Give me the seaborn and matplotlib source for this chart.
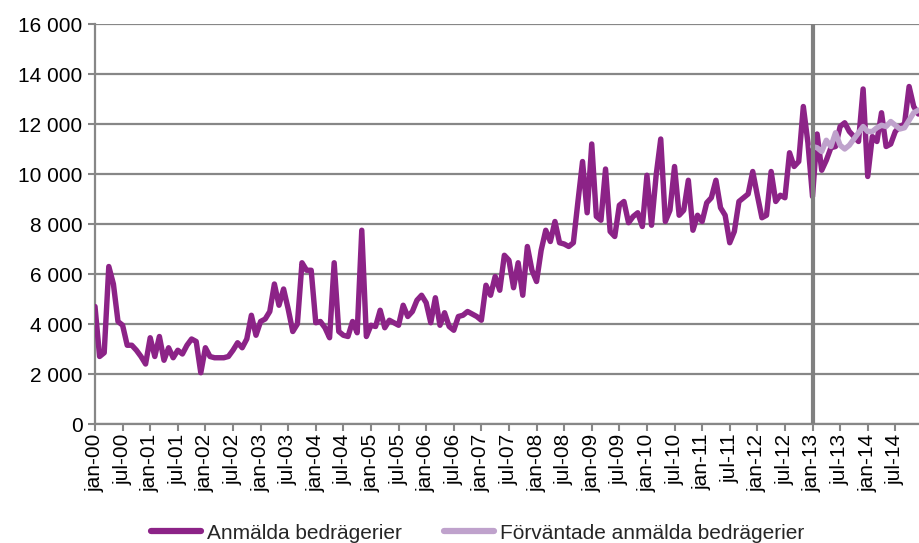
import matplotlib
matplotlib.use("Agg")
import matplotlib.pyplot as plt
import seaborn as sns
import pandas as pd
import numpy as np
from matplotlib.ticker import FuncFormatter

# Anmälda bedrägerier per månad, jan-00 .. dec-14
anmalda = [
    4700, 2700, 2850, 6300, 5600, 4100, 3950, 3150, 3150, 2950, 2700, 2400,    # 2000
    3450, 2700, 3500, 2550, 3050, 2650, 2950, 2800, 3150, 3400, 3300, 2050,    # 2001
    3050, 2700, 2650, 2650, 2650, 2700, 2950, 3250, 3050, 3400, 4350, 3550,    # 2002
    4100, 4200, 4500, 5600, 4750, 5400, 4600, 3700, 4000, 6450, 6150, 6150,    # 2003
    4050, 4100, 3850, 3450, 6450, 3700, 3550, 3500, 4100, 3650, 7750, 3500,    # 2004
    3950, 3900, 4550, 3850, 4150, 4050, 3950, 4750, 4300, 4500, 4950, 5150,    # 2005
    4850, 4050, 5050, 3950, 4450, 3900, 3750, 4300, 4350, 4500, 4400, 4300,    # 2006
    4150, 5550, 5150, 5900, 5350, 6750, 6550, 5450, 6450, 5150, 7100, 6150,    # 2007
    5700, 6950, 7750, 7300, 8100, 7250, 7200, 7100, 7250, 8900, 10500, 8450,   # 2008
    11200, 8300, 8150, 10200, 7700, 7500, 8750, 8900, 8050, 8300, 8450, 7900,  # 2009
    9950, 7950, 9950, 11400, 8100, 8550, 10300, 8350, 8550, 9750, 7750, 8350,  # 2010
    8100, 8850, 9050, 9750, 8650, 8350, 7250, 7700, 8900, 9050, 9200, 10100,   # 2011
    9150, 8250, 8350, 10100, 8900, 9150, 9050, 10850, 10300, 10500, 12700, 11250,  # 2012
    9100, 11600, 10150, 10550, 11050, 11100, 11900, 12050, 11700, 11500, 11300, 13400,  # 2013
    9900, 11500, 11300, 12450, 11100, 11200, 11700, 11900, 12000, 13500, 12700, 12400,  # 2014
]

# Förväntade anmälda bedrägerier, jan-13 .. dec-14
forvantade = [
    11100, 11050, 10900, 11350, 11100, 11650, 11150, 11000, 11150, 11400, 11650, 11900,
    11700, 11700, 11850, 11950, 11900, 12100, 11950, 11800, 11850, 12150, 12450, 12550,
]

tick_labels = [
    "jan-00", "jul-00", "jan-01", "jul-01", "jan-02", "jul-02", "jan-03", "jul-03",
    "jan-04", "jul-04", "jan-05", "jul-05", "jan-06", "jul-06", "jan-07", "jul-07",
    "jan-08", "jul-08", "jan-09", "jul-09", "jan-10", "jul-10", "jan-11", "jul-11",
    "jan-12", "jul-12", "jan-13", "jul-13", "jan-14", "jul-14",
]

prognos_start = len(anmalda) - len(forvantade)

df_a = pd.DataFrame({"manad": np.arange(len(anmalda)), "antal": anmalda})
df_f = pd.DataFrame({"manad": np.arange(prognos_start, len(anmalda)), "antal": forvantade})

sns.set_theme(style="white")
plt.rcParams["font.family"] = ["Liberation Sans", "DejaVu Sans"]

lila = "#8C2387"
ljuslila = "#BFA2CC"
gra = "#878787"

fig = plt.figure(figsize=(9.19, 5.43), dpi=100)
ax = fig.add_axes([95 / 919, 119 / 543, 824 / 919, 400 / 543])

sns.lineplot(data=df_a, x="manad", y="antal", color=lila, lw=3.9, ax=ax,
             label="Anmälda bedrägerier", zorder=3,
             solid_joinstyle="round", solid_capstyle="round")
sns.lineplot(data=df_f, x="manad", y="antal", color=ljuslila, lw=3.9, ax=ax,
             label="Förväntade anmälda bedrägerier", zorder=4,
             solid_joinstyle="round", solid_capstyle="round")

ax.axvline(prognos_start, color="#808080", lw=3, zorder=5)

ax.set_xlim(0, 179.15)
ax.set_ylim(0, 16000)
ax.set_yticks(np.arange(0, 16001, 2000))
ax.yaxis.set_major_formatter(FuncFormatter(lambda v, p: f"{v:,.0f}".replace(",", " ")))
ax.set_xticks(np.arange(0, len(tick_labels) * 6, 6))
ax.set_xticklabels(tick_labels, rotation=90)

ax.grid(axis="y", color=gra, lw=1.6, zorder=0)
ax.set_axisbelow(True)
for s in ["top", "right"]:
    ax.spines[s].set_visible(False)
for s in ["left", "bottom"]:
    ax.spines[s].set_color(gra)
    ax.spines[s].set_linewidth(1.6)

ax.tick_params(axis="both", colors=gra, labelcolor="black", labelsize=15,
               length=5, width=1.5, direction="out", left=True, bottom=True)
ax.tick_params(axis="x", pad=2)
ax.tick_params(axis="y", pad=4)
ax.set_xlabel("")
ax.set_ylabel("")

leg = ax.legend(loc="center", bbox_to_anchor=(0.52, 0.018), bbox_transform=fig.transFigure,
                ncol=2, frameon=False, fontsize=15, handlelength=2.4, handletextpad=0.3,
                columnspacing=2.0, borderaxespad=0)
for h in leg.get_lines():
    h.set_linewidth(4.5)

fig.savefig("out.png", dpi=100)
